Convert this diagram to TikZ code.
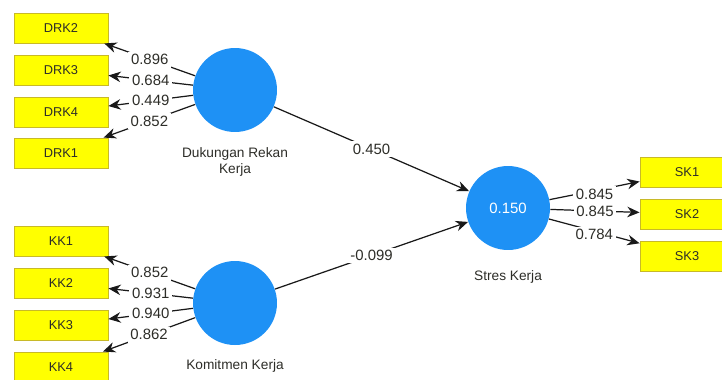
\documentclass[tikz,border=0pt]{standalone}
\usepackage{fontspec}
\setmainfont{Liberation Sans}
\newcommand*{\boxfont}{\fontsize{7.3}{8.5}\selectfont}
\newcommand*{\numfont}{\fontsize{8.5}{10}\selectfont}
\newcommand*{\namefont}{\fontsize{7.8}{9.4}\selectfont}
\definecolor{latent}{RGB}{30,145,245}
\definecolor{indfill}{RGB}{255,255,0}
\definecolor{indline}{RGB}{200,185,40}
\definecolor{edge}{RGB}{25,25,25}
\definecolor{textgrey}{RGB}{45,45,40}
\usepackage{tikz}
\usetikzlibrary{arrows.meta}
\tikzstyle{ind}=[draw=indline, fill=indfill, line width=0.5pt, minimum width=1.88cm, minimum height=0.6cm, inner sep=0pt, font=\boxfont, text=textgrey]
\tikzstyle{lat}=[circle, fill=latent, minimum size=1.68cm, inner sep=0pt, font=\numfont, text=white]
\tikzstyle{latname}=[font=\namefont, text=textgrey, align=center, inner sep=0pt]
\tikzstyle{link}=[draw=edge, line width=0.7pt, -{Stealth[length=7pt, width=6pt]}]
\tikzstyle{wt}=[fill=white, inner sep=1.5pt, font=\numfont, text=textgrey]

\begin{document}
\begin{tikzpicture}[x=0.02cm, y=-0.02cm]
    \clip (0,0) rectangle (722,379);
        \node [lat] (drk) at (235,90) {};
        \node [lat] (kk) at (235,303) {};
        \node [lat] (sk) at (508,208) {0.150};
        \node [latname] (drkname) at (235,162) {Dukungan Rekan\\Kerja};
        \node [latname] (kkname) at (235,366) {Komitmen Kerja};
        \node [latname] (skname) at (508,277) {Stres Kerja};
        \node [ind] (drk2) at (61,28) {DRK2};
        \node [ind] (drk3) at (61,70) {DRK3};
        \node [ind] (drk4) at (61,112) {DRK4};
        \node [ind] (drk1) at (61,153) {DRK1};
        \node [ind] (kk1) at (61,241) {KK1};
        \node [ind] (kk2) at (61,283) {KK2};
        \node [ind] (kk3) at (61,325) {KK3};
        \node [ind] (kk4) at (61,367) {KK4};
        \node [ind] (sk1) at (687,172) {SK1};
        \node [ind] (sk2) at (687,214) {SK2};
        \node [ind] (sk3) at (687,256) {SK3};
        \draw [link] (drk) -- node [wt] {0.896} (drk2);
        \draw [link] (drk) -- node [wt] {0.684} (drk3);
        \draw [link] (drk) -- node [wt] {0.449} (drk4);
        \draw [link] (drk) -- node [wt] {0.852} (drk1);
        \draw [link] (kk) -- node [wt] {0.852} (kk1);
        \draw [link] (kk) -- node [wt] {0.931} (kk2);
        \draw [link] (kk) -- node [wt] {0.940} (kk3);
        \draw [link] (kk) -- node [wt] {0.862} (kk4);
        \draw [link] (sk) -- node [wt, yshift=-2pt] {0.845} (sk1);
        \draw [link] (sk) -- node [wt] {0.845} (sk2);
        \draw [link] (sk) -- node [wt, yshift=-2pt] {0.784} (sk3);
        \draw [link] (drk) -- node [wt] {0.450} (sk);
        \draw [link] (kk) -- node [wt] {-0.099} (sk);
    \end{tikzpicture}
\end{document}
